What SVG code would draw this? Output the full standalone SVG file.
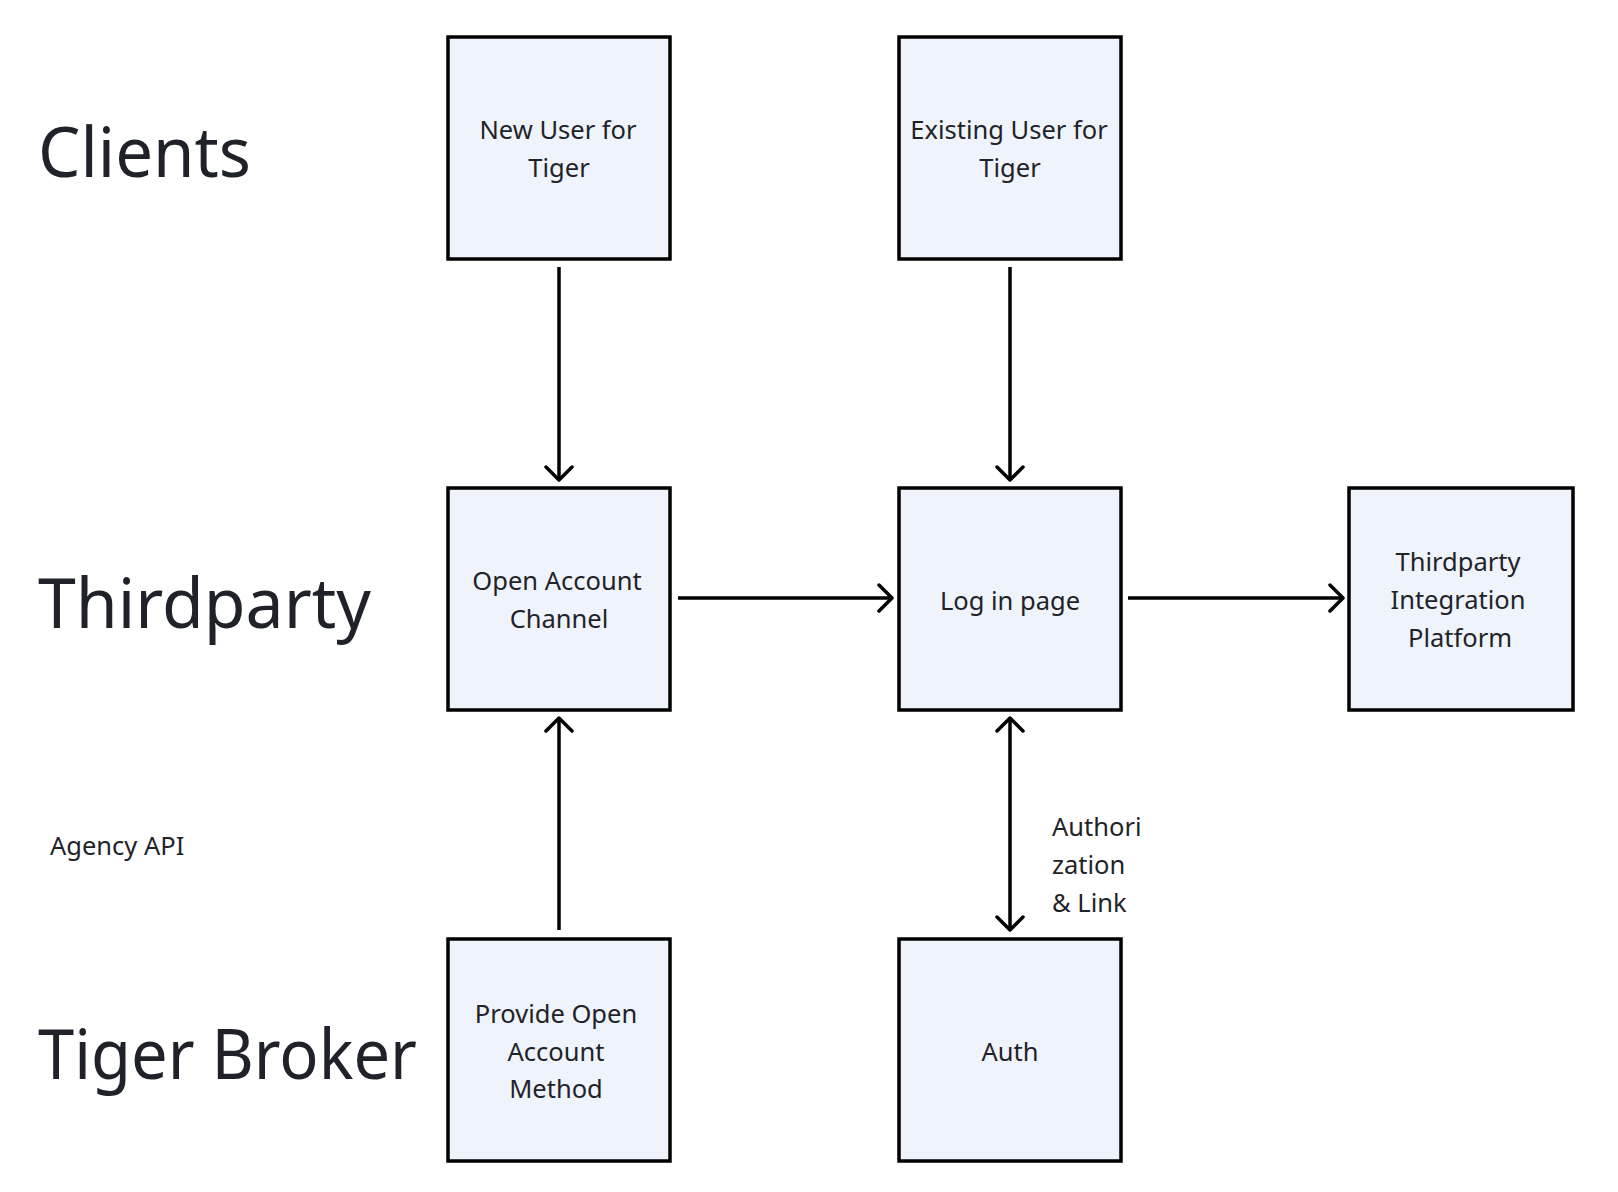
<svg xmlns="http://www.w3.org/2000/svg" width="1618" height="1192" viewBox="0 0 1618 1192">
  <defs>
    <style>
      .box { fill: #eff3fb; stroke: #000; stroke-width: 3.5; }
      .t { font-family: "Noto Sans", "Open Sans", sans-serif; fill: #1f2329; font-size: 25.5px; text-anchor: middle; }
      .title { font-family: "Noto Sans", "Open Sans", sans-serif; fill: #1f2329; font-size: 69px; }
      .lbl { font-family: "Noto Sans", "Open Sans", sans-serif; fill: #1f2329; font-size: 25.5px; }
      .conn { stroke: #000; stroke-width: 3.5; fill: none; }
    </style>
    <marker id="arr" viewBox="0 0 20 30" refX="17" refY="15" markerWidth="20" markerHeight="30" markerUnits="userSpaceOnUse" orient="auto-start-reverse">
      <polyline points="4,2 17,15 4,28" fill="none" stroke="#000" stroke-width="3.5" stroke-linecap="round" stroke-linejoin="round"/>
    </marker>
  </defs>
  <rect width="1618" height="1192" fill="#ffffff"/>

  <g id="lane-titles">
    <text class="title" x="38" y="177" textLength="213" lengthAdjust="spacingAndGlyphs">Clients</text>
    <text class="title" x="38" y="628" textLength="333" lengthAdjust="spacingAndGlyphs">Thirdparty</text>
    <text class="title" x="38" y="1079" textLength="379" lengthAdjust="spacingAndGlyphs">Tiger Broker</text>
    <text class="lbl" x="50" y="855">Agency API</text>
  </g>

  <g id="connectors">
    <line class="conn" x1="559" y1="267" x2="559" y2="480" marker-end="url(#arr)"/>
    <line class="conn" x1="1010" y1="267" x2="1010" y2="480" marker-end="url(#arr)"/>
    <line class="conn" x1="678" y1="598" x2="892" y2="598" marker-end="url(#arr)"/>
    <line class="conn" x1="1128" y1="598" x2="1343" y2="598" marker-end="url(#arr)"/>
    <line class="conn" x1="559" y1="930" x2="559" y2="718" marker-end="url(#arr)"/>
    <line class="conn" x1="1010" y1="718" x2="1010" y2="930" marker-start="url(#arr)" marker-end="url(#arr)"/>
    <text class="lbl" x="1052" y="836">Authori</text>
    <text class="lbl" x="1052" y="874">zation</text>
    <text class="lbl" x="1052" y="912">&amp; Link</text>
  </g>

  <g id="new-user">
    <rect class="box" x="448" y="37" width="222" height="222"/>
    <text class="t" x="558" y="139">New User for</text>
    <text class="t" x="559" y="177">Tiger</text>
  </g>
  <g id="existing-user">
    <rect class="box" x="899" y="37" width="222" height="222"/>
    <text class="t" x="1009" y="139">Existing User for</text>
    <text class="t" x="1010" y="177">Tiger</text>
  </g>
  <g id="open-account-channel">
    <rect class="box" x="448" y="488" width="222" height="222"/>
    <text class="t" x="557" y="590">Open Account</text>
    <text class="t" x="559" y="628">Channel</text>
  </g>
  <g id="log-in-page">
    <rect class="box" x="899" y="488" width="222" height="222"/>
    <text class="t" x="1010" y="610">Log in page</text>
  </g>
  <g id="thirdparty-platform">
    <rect class="box" x="1349" y="488" width="224" height="222"/>
    <text class="t" x="1458" y="571">Thirdparty</text>
    <text class="t" x="1458" y="609">Integration</text>
    <text class="t" x="1460" y="647">Platform</text>
  </g>
  <g id="provide-open-account">
    <rect class="box" x="448" y="939" width="222" height="222"/>
    <text class="t" x="556" y="1023">Provide Open</text>
    <text class="t" x="556" y="1061">Account</text>
    <text class="t" x="556" y="1098">Method</text>
  </g>
  <g id="auth">
    <rect class="box" x="899" y="939" width="222" height="222"/>
    <text class="t" x="1010" y="1061">Auth</text>
  </g>
</svg>
